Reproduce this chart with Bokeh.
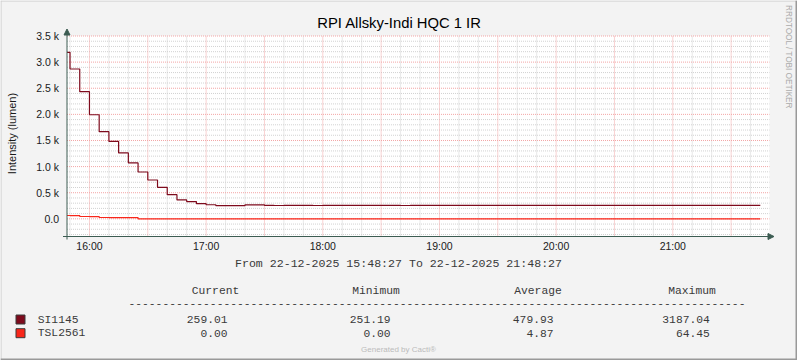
import math
from datetime import datetime, timedelta

from bokeh.plotting import figure
from bokeh.models import Range1d, Label, Arrow, NormalHead
from bokeh.core.properties import value
from bokeh.embed import file_html
from bokeh.resources import INLINE

# ---------------- data ----------------
TITLE = "RPI Allsky-Indi HQC 1 IR"
Y_LABEL = "Intensity (lumen)"
SIDE_TEXT = "RRDTOOL / TOBI OETIKER"
PERIOD_TEXT = "From 22-12-2025 15:48:27 To 22-12-2025 21:48:27"
FOOTER = "Generated by Cacti\u00ae"

view_start = datetime(2025, 12, 22, 15, 48, 27)
view_end = datetime(2025, 12, 22, 21, 48, 27)
first_interval = datetime(2025, 12, 22, 15, 45, 0)
step_minutes = 5

series_names = ["SI1145", "TSL2561"]

si1145 = [3187.04, 2868, 2434, 1993, 1668, 1482, 1262, 1070, 897, 744,
          603, 462, 362, 330, 291, 270, 251.19, 251.6, 252.3, 268.4,
          267.9, 256.2, 255.8, 256.4, 257.1, 256.0, 255.5, 256.3, 257.0, 256.6,
          255.9, 256.2, 256.8, 257.3, 256.5, 255.7, 256.1, 256.9, 257.4, 256.8,
          256.3, 256.0, 256.7, 257.2, 257.5, 256.9, 256.4, 256.8, 257.3, 257.8,
          257.1, 256.6, 257.0, 257.6, 258.0, 257.4, 257.0, 257.5, 258.1, 258.4,
          257.8, 257.3, 257.9, 258.3, 258.6, 258.0, 257.7, 258.2, 258.6, 258.9,
          258.5, 259.01]

tsl2561 = [64.45, 61.8, 44.6, 43.2, 25.7, 24.9, 24.1, 23.4, 0.0, 0.0,
           0.0, 0.0, 0.0, 0.0, 0.0, 0.0, 0.0, 0.0, 0.0, 0.0,
           0.0, 0.0, 0.0, 0.0, 0.0, 0.0, 0.0, 0.0, 0.0, 0.0,
           0.0, 0.0, 0.0, 0.0, 0.0, 0.0, 0.0, 0.0, 0.0, 0.0,
           0.0, 0.0, 0.0, 0.0, 0.0, 0.0, 0.0, 0.0, 0.0, 0.0,
           0.0, 0.0, 0.0, 0.0, 0.0, 0.0, 0.0, 0.0, 0.0, 0.0,
           0.0, 0.0, 0.0, 0.0, 0.0, 0.0, 0.0, 0.0, 0.0, 0.0,
           0.0, 0.0]

x_tick_labels = ["16:00", "17:00", "18:00", "19:00", "20:00", "21:00"]
y_tick_values = [0, 500, 1000, 1500, 2000, 2500, 3000, 3500]
y_tick_labels = ["0.0", "0.5 k", "1.0 k", "1.5 k", "2.0 k", "2.5 k", "3.0 k", "3.5 k"]
y_min, y_max = -338, 3500

stat_headers = ["Current", "Minimum", "Average", "Maximum"]
si1145_stats = ["259.01", "251.19", "479.93", "3187.04"]
tsl2561_stats = ["0.00", "0.00", "4.87", "64.45"]

# ---------------- styles ----------------
SI_COLOR = "#7E0A1C"
TSL_COLOR = "#F8261A"
AXIS_COLOR = "#3C5C52"
MAJOR_GRID = "#F3A5A5"
MINOR_GRID = "#D2D2D2"
BG = "#F3F3F3"
SANS = "Liberation Sans"
MONO = "Liberation Mono"
TEXT = "#1a1a1a"
MONO_TEXT = "#3a3a3a"

EPOCH = datetime(1970, 1, 1)


def ms(dt):
    return (dt - EPOCH).total_seconds() * 1000.0


# ---------------- geometry: plot area inside a 797x360 canvas ----------------
W, H = 797, 360
FL, FR, FT, FB = 66.5, 766.5, 35.5, 236.0   # plot-area edges in canvas pixels

MPP = (ms(view_end) - ms(view_start)) / (FR - FL)   # ms per pixel
UPP = (y_max - y_min) / (FB - FT)                   # value units per pixel
X0 = ms(view_start) - FL * MPP
Y0 = y_max + FT * UPP


def dx(cx):
    return X0 + cx * MPP


def dy(cy):
    return Y0 - cy * UPP


p = figure(width=W, height=H, output_backend="svg", toolbar_location=None,
           x_axis_location=None, y_axis_location=None, min_border=0,
           x_range=Range1d(X0, X0 + W * MPP), y_range=Range1d(Y0 - H * UPP, Y0))
p.grid.visible = False
p.outline_line_color = None
p.background_fill_color = BG
p.border_fill_color = BG

# plot area background
p.quad(left=[ms(view_start)], right=[ms(view_end) + 2.5 * MPP], bottom=[y_min], top=[y_max],
       fill_color="white", line_color=None)

# grid
grid_origin = datetime(2025, 12, 22, 15, 30)
grid_times = [grid_origin + timedelta(minutes=10 * i) for i in range(40)]
grid_times = [t for t in grid_times if view_start <= t <= view_end]
minor_x = [ms(t) for t in grid_times if t.minute % 30 != 0]
major_x = [ms(t) for t in grid_times if t.minute % 30 == 0]
minor_y = [v for v in range(-300, 3500, 100) if v % 500 != 0]
x_right = ms(view_end) + 2.5 * MPP

p.segment(x0=minor_x, x1=minor_x, y0=[y_min] * len(minor_x), y1=[y_max] * len(minor_x),
          line_color=MINOR_GRID, line_dash="1 1", line_width=1)
p.segment(x0=[ms(view_start)] * len(minor_y), x1=[x_right] * len(minor_y), y0=minor_y, y1=minor_y,
          line_color=MINOR_GRID, line_dash="1 1", line_width=1)
p.segment(x0=major_x, x1=major_x, y0=[y_min] * len(major_x), y1=[y_max] * len(major_x),
          line_color=MAJOR_GRID, line_dash="1 1", line_width=1)
p.segment(x0=[ms(view_start)] * len(y_tick_values), x1=[x_right] * len(y_tick_values),
          y0=y_tick_values, y1=y_tick_values,
          line_color=MAJOR_GRID, line_dash="1 1", line_width=1)

# data: rrd steps; the window starts inside the first step
times = [first_interval + timedelta(minutes=step_minutes * i) for i in range(len(si1145))]
step_x = [ms(view_start)] + [ms(t) for t in times[1:]] + [ms(times[-1] + timedelta(minutes=step_minutes))]
p.step(step_x, si1145 + [si1145[-1]], mode="after", line_color=SI_COLOR, line_width=1.2)
p.step(step_x, tsl2561 + [tsl2561[-1]], mode="after", line_color=TSL_COLOR, line_width=1.2)

# axes with arrows
head = dict(size=6, fill_color=AXIS_COLOR, line_color=AXIS_COLOR)
p.add_layout(Arrow(x_start=dx(FL - 4), y_start=y_min, x_end=dx(FR + 7), y_end=y_min,
                   line_color=AXIS_COLOR, line_width=1, end=NormalHead(**head)))
p.add_layout(Arrow(x_start=ms(view_start), y_start=dy(FB + 3), x_end=ms(view_start), y_end=dy(FT - 7),
                   line_color=AXIS_COLOR, line_width=1, end=NormalHead(**head)))

# tick labels
hour_ticks = [ms(datetime(2025, 12, 22, int(t[:2]), int(t[3:]))) for t in x_tick_labels]
p.text(x=hour_ticks, y=[dy(245)] * len(hour_ticks), text=x_tick_labels,
       text_font=value(SANS), text_font_size="10.5px", text_color=TEXT,
       text_align="center", text_baseline="middle")
p.text(x=[dx(58.5)] * len(y_tick_values), y=y_tick_values, text=y_tick_labels,
       text_font=value(SANS), text_font_size="10.5px", text_color=TEXT,
       text_align="right", text_baseline="middle")


def label(text, cx, cy, font=SANS, size="11px", color=TEXT, align="center", angle=0.0):
    p.add_layout(Label(x=dx(cx), y=dy(cy), text=text, text_font=font, text_font_size=size,
                       text_color=color, text_align=align, text_baseline="middle", angle=angle))


label(TITLE, 399, 22, size="14.8px", color="#000000")
label(Y_LABEL, 11.5, 133, size="11px", angle=math.pi / 2)
label(SIDE_TEXT, 788, 56.5, size="8.2px", color="#ABABAB", angle=-math.pi / 2)
label(PERIOD_TEXT, 398, 263, font=MONO, size="11.6px", color=MONO_TEXT)

header_centers = [215, 375.5, 537.5, 691.5]
value_rights = [227, 390, 553, 709.3]
for h, c in zip(stat_headers, header_centers):
    label(h, c, 290.7, font=MONO, size="11.3px", color=MONO_TEXT)
label("-" * 91, 128, 303, font=MONO, size="11.3px", align="left", color=MONO_TEXT)

rows_y = [319, 332.7]
series_colors = [SI_COLOR, TSL_COLOR]
for name, stats, ry, col in zip(series_names, [si1145_stats, tsl2561_stats], rows_y, series_colors):
    label(name, 37.3, ry, font=MONO, size="11.3px", align="left", color=MONO_TEXT)
    for v, r in zip(stats, value_rights):
        label(v, r, ry, font=MONO, size="11.3px", align="right", color=MONO_TEXT)
    p.quad(left=[dx(15.5)], right=[dx(24.5)], top=[dy(ry - 4.5)], bottom=[dy(ry + 4.5)],
           fill_color=col, line_color="#3a3a3a", line_width=1)

label(FOOTER, 398, 349, size="8px", color="#BBBBBB")

# canvas border (light top/left, dark bottom/right)
for (l, r, t, b, c) in [(0, W, 0, 1, "#CBCBCB"), (0, 1, 0, H, "#CBCBCB"),
                        (0, W, H - 2, H, "#999999"), (W - 2, W, 0, H, "#999999")]:
    p.quad(left=[dx(l)], right=[dx(r)], top=[dy(t)], bottom=[dy(b)], fill_color=c, line_color=None)

open("out.html", "w").write(file_html(p, INLINE))
